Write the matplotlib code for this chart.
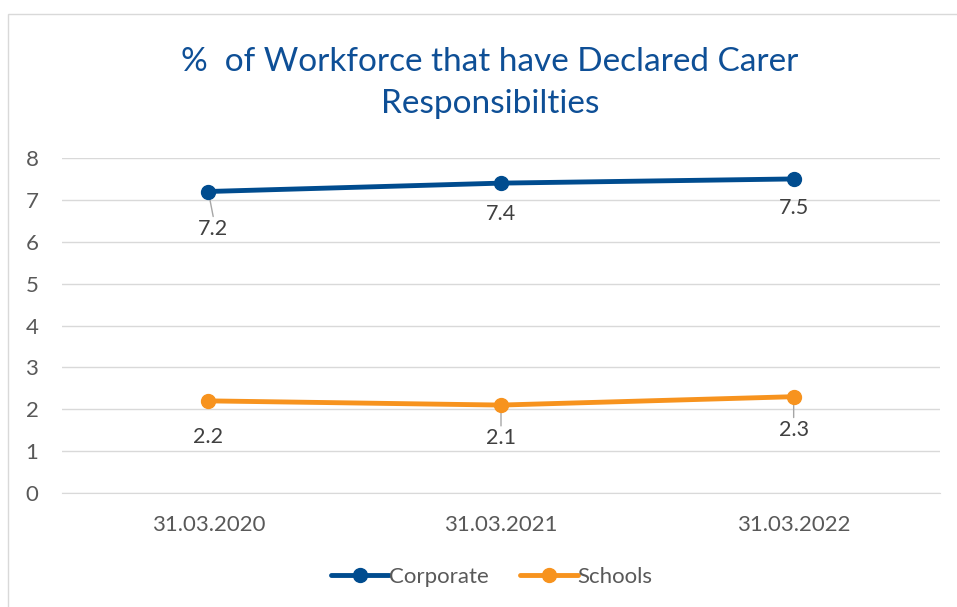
import matplotlib
matplotlib.use("Agg")
import matplotlib.pyplot as plt
from matplotlib.patches import Rectangle

categories = ["31.03.2020", "31.03.2021", "31.03.2022"]
corporate = [7.2, 7.4, 7.5]
schools = [2.2, 2.1, 2.3]
yticks = [0, 1, 2, 3, 4, 5, 6, 7, 8]
title = "%  of Workforce that have Declared Carer\nResponsibilties"

plt.rcParams['font.family'] = ['Lato', 'DejaVu Sans']

W, H = 957, 607
fig = plt.figure(figsize=(W / 100, H / 100), dpi=100)

# chart border (cut off right/bottom)
fig.patches.append(Rectangle((8 / W, -0.01), 1.0, 1 - 14 / H + 0.01,
                             transform=fig.transFigure, fill=False,
                             edgecolor="#D9D9D9", linewidth=1.0))

ax = fig.add_axes([62 / W, 1 - 493 / H, (940 - 62) / W, (493 - 158) / H])
x = list(range(len(categories)))

blue = "#004C8F"
orange = "#F7931E"
ax.plot(x, corporate, color=blue, lw=3.5, marker="o", ms=10, label="Corporate",
        solid_capstyle="round", zorder=3)
ax.plot(x, schools, color=orange, lw=3.5, marker="o", ms=10, label="Schools",
        solid_capstyle="round", zorder=3)

ax.set_xlim(-0.5, len(categories) - 0.5)
ax.set_ylim(0, 8)
ax.set_yticks(yticks)
ax.set_xticks(x)
ax.set_xticklabels(categories)
ax.grid(axis="y", color="#D9D9D9", lw=1)
ax.set_axisbelow(True)
for s in ["top", "right", "left"]:
    ax.spines[s].set_visible(False)
ax.spines["bottom"].set_color("#D9D9D9")
ax.tick_params(axis="both", length=0, labelsize=16, colors="#595959")
ax.tick_params(axis="x", pad=16)
ax.tick_params(axis="y", pad=17)

# data labels: offsets in points (dx, dy) and whether a leader line is drawn
corp_off = [(3.5, -27), (0, -22), (0, -21)]
corp_lead = [True, False, False]
sch_off = [(0, -26), (0, -24), (0, -24)]
sch_lead = [False, True, True]

def label(series, offs, leads):
    for i, v in enumerate(series):
        dx, dy = offs[i]
        ax.annotate(f"{v}", (i, v), xytext=(dx, dy), textcoords="offset points",
                    ha="center", va="center", fontsize=15.5, color="#404040",
                    zorder=2)
        if leads[i]:
            ax.annotate("", (i, v), xytext=(dx, dy + 9), textcoords="offset points",
                        arrowprops=dict(arrowstyle="-", color="#A6A6A6", lw=1,
                                        shrinkA=0, shrinkB=0), zorder=2)

label(corporate, corp_off, corp_lead)
label(schools, sch_off, sch_lead)

fig.text(490 / W, 1 - 83 / H, title, ha="center", va="center", fontsize=24,
         color="#0E4F96", linespacing=1.5)

leg = fig.legend(loc="center", bbox_to_anchor=(492 / W, 1 - 577 / H), ncol=2,
                 frameon=False, fontsize=16, handlelength=2.6, columnspacing=1.4,
                 handletextpad=0.0)
for t in leg.get_texts():
    t.set_color("#595959")

fig.savefig("out.png", dpi=100)
